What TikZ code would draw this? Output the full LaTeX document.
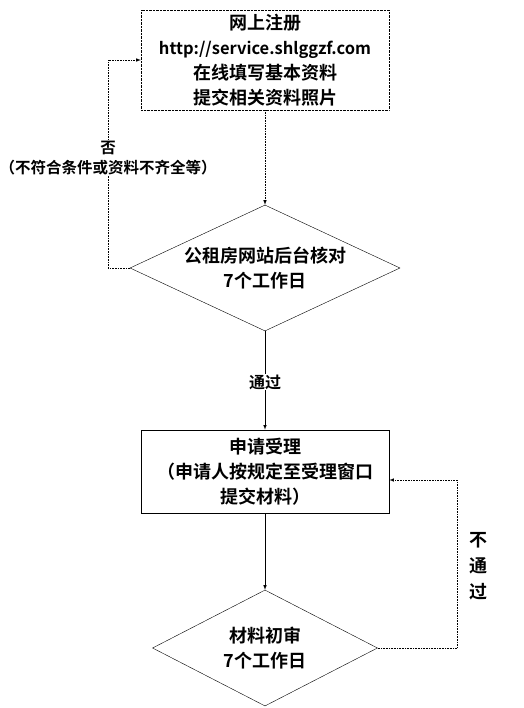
\documentclass[tikz,border=0pt]{standalone}
\usepackage{fontspec}
\setmainfont{Noto Sans CJK SC}[BoldFont={Noto Sans CJK SC Bold}]
\usetikzlibrary{shapes,arrows}

\begin{document}
\begin{tikzpicture}[x=1pt, y=-1pt,
    txt/.style={font=\bfseries\fontsize{18pt}{25pt}\selectfont, align=center},
    stepbox/.style={draw, rectangle, txt, inner sep=0pt},
    check/.style={draw, diamond, txt, inner sep=0pt},
    solidline/.style={draw, -latex, semithick},
    dotline/.style={draw, -latex, semithick, densely dotted},
    lbl/.style={fill=white, align=center, inner sep=1pt, font=\bfseries\fontsize{15.5pt}{20pt}\selectfont}]
\useasboundingbox (0,0) rectangle (523,708);

% 网上注册
\node[stepbox, densely dotted, minimum width=248pt, minimum height=100pt] (reg) at (265,60)
  {网上注册\\{\fontsize{16.5pt}{25pt}\selectfont http://service.shlggzf.com}\\在线填写基本资料\\提交相关资料照片};

% 后台核对
\node[check, aspect=2.14, minimum width=270pt, minimum height=126pt] (check1) at (265,268)
  {公租房网站后台核对\\7个工作日};

% 申请受理
\node[stepbox, semithick, minimum width=248pt, minimum height=83pt] (accept) at (265,471.5)
  {申请受理\\（申请人按规定至受理窗口\\提交材料）};

% 材料初审
\node[check, aspect=1.94, minimum width=225pt, minimum height=116pt] (check2) at (265,648)
  {材料初审\\7个工作日};

% 连接线
\coordinate (back1) at (108,60);
\coordinate (back2) at (457,480);
\draw[dotline] (reg) -- (check1);
\draw[dotline] (check1.west) -| (back1) -- (reg.west);
\draw[solidline] (check1) -- (accept);
\draw[solidline] (accept) -- (check2);
\draw[dotline] (check2.east) -| (back2) -- (accept.east |- back2);

% 标注
\node[lbl] (no1) at (108,158) {否\\（不符合条件或资料不齐全等）};
\node[lbl, font=\bfseries\fontsize{16pt}{20pt}\selectfont] (pass1) at (265,382) {通过};
\node[lbl, font=\bfseries\fontsize{18pt}{26pt}\selectfont] (no2) at (478,566) {不\\通\\过};
\end{tikzpicture}
\end{document}
